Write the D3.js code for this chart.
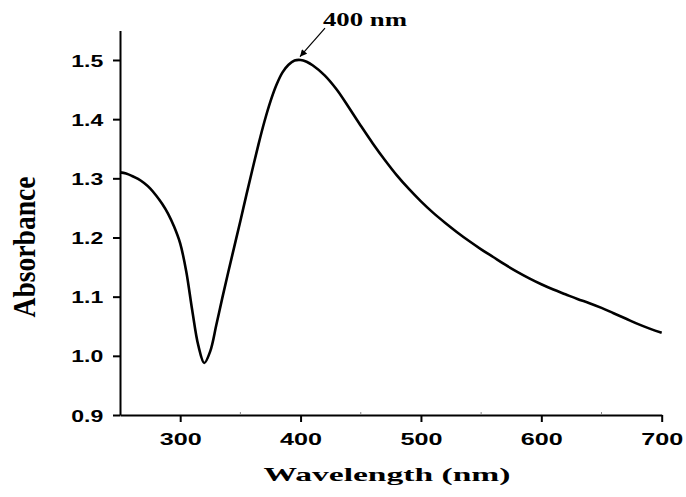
<!DOCTYPE html>
<html>
<head>
<meta charset="utf-8">
<script src="https://cdn.jsdelivr.net/npm/d3@7"></script>
<style>
  html, body { margin: 0; padding: 0; background: #fff; }
  svg { display: block; }
</style>
</head>
<body>
<div id="chart"></div>
<script>
// ---- data ----
const wavelength = [250,255,260,265,270,275,280,285,290,295,300,305,310,315,320,325,330,335,340,345,350,355,360,365,370,375,380,385,390,395,400,405,410,420,430,440,450,460,470,480,490,500,510,520,530,540,550,560,570,580,590,600,610,620,630,640,650,660,670,680,690,700];
const absorbance = [1.310,1.308,1.304,1.299,1.292,1.283,1.271,1.257,1.240,1.218,1.190,1.143,1.077,1.018,0.988,1.008,1.052,1.098,1.142,1.185,1.228,1.272,1.315,1.357,1.396,1.430,1.458,1.479,1.492,1.499,1.500,1.497,1.491,1.474,1.450,1.420,1.389,1.359,1.331,1.305,1.282,1.261,1.242,1.225,1.209,1.194,1.180,1.167,1.154,1.142,1.131,1.121,1.112,1.104,1.096,1.089,1.081,1.072,1.063,1.054,1.046,1.039];
const xTickValues = [300,400,500,600,700];
const xMinorTicks = [350,450,550,650];
const yTickValues = [0.9,1.0,1.1,1.2,1.3,1.4,1.5];
const xTitle = "Wavelength (nm)";
const yTitle = "Absorbance";
const peakLabel = "400 nm";
const peakArrowFrom = [420.3, 1.554];
const peakArrowTo = [399.5, 1.5055];
const peakLabelAt = [418.6, 1.557];

// ---- layout ----
const W = 686, H = 497;
const svg = d3.select("#chart").append("svg").attr("width", W).attr("height", H);

const x = d3.scaleLinear().domain([250, 700]).range([120, 661.7]);
const y = d3.scaleLinear().domain([0.9, 1.55]).range([415, 30.4]);

const defs = svg.append("defs");
defs.append("marker")
  .attr("id", "arrow").attr("viewBox", "0 0 10 10")
  .attr("refX", 10).attr("refY", 5)
  .attr("markerWidth", 9).attr("markerHeight", 7)
  .attr("markerUnits", "userSpaceOnUse")
  .attr("orient", "auto")
  .append("path").attr("d", "M0,0 L10,5 L0,10 z").attr("fill", "#000");

// x axis
const gx = svg.append("g").attr("transform", `translate(0,${y(0.9)})`)
  .call(d3.axisBottom(x).tickValues(xTickValues).tickSize(7).tickSizeOuter(0).tickFormat(d3.format("d")));
gx.select(".domain").attr("stroke", "#000").attr("stroke-width", 2);
gx.selectAll(".tick line").attr("stroke", "#000").attr("stroke-width", 2);
gx.selectAll(".tick text")
  .attr("y", 30).attr("dy", 0)
  .attr("font-family", "Liberation Sans, Arial, sans-serif")
  .attr("font-weight", "bold").attr("font-size", 17).attr("fill", "#000")
  .attr("textLength", 42).attr("lengthAdjust", "spacingAndGlyphs");

// minor x ticks
svg.append("g").selectAll("line").data(xMinorTicks).join("line")
  .attr("x1", d => x(d)).attr("x2", d => x(d))
  .attr("y1", y(0.9) - 1).attr("y2", y(0.9) - 3)
  .attr("stroke", "#888").attr("stroke-width", 1);

// y axis
const gy = svg.append("g").attr("transform", `translate(${x(250)},0)`)
  .call(d3.axisLeft(y).tickValues(yTickValues).tickSize(7).tickSizeOuter(0).tickFormat(d3.format(".1f")));
gy.select(".domain").attr("stroke", "#000").attr("stroke-width", 2);
gy.selectAll(".tick line").attr("stroke", "#000").attr("stroke-width", 2);
gy.selectAll(".tick text")
  .attr("x", -16.7).attr("dy", "0.36em")
  .attr("font-family", "Liberation Sans, Arial, sans-serif")
  .attr("font-weight", "bold").attr("font-size", 17).attr("fill", "#000")
  .attr("textLength", 32).attr("lengthAdjust", "spacingAndGlyphs");

// curve
const pts = wavelength.map((w, i) => [w, absorbance[i]]);
svg.append("path").datum(pts)
  .attr("fill", "none").attr("stroke", "#000").attr("stroke-width", 2.6)
  .attr("stroke-linejoin", "round")
  .attr("d", d3.line().x(d => x(d[0])).y(d => y(d[1])).curve(d3.curveCatmullRom.alpha(0.5)));

// titles
svg.append("text")
  .attr("x", 387).attr("y", 481).attr("text-anchor", "middle")
  .attr("font-family", "Liberation Serif, 'Times New Roman', serif")
  .attr("font-weight", "bold").attr("font-size", 19.5)
  .attr("textLength", 247).attr("lengthAdjust", "spacingAndGlyphs")
  .text(xTitle);

svg.append("text")
  .attr("transform", `translate(35,247) rotate(-90)`)
  .attr("text-anchor", "middle")
  .attr("font-family", "Liberation Serif, 'Times New Roman', serif")
  .attr("font-weight", "bold").attr("font-size", 32)
  .attr("textLength", 141).attr("lengthAdjust", "spacingAndGlyphs")
  .text(yTitle);

// annotation
svg.append("line")
  .attr("x1", x(peakArrowFrom[0])).attr("y1", y(peakArrowFrom[1]))
  .attr("x2", x(peakArrowTo[0])).attr("y2", y(peakArrowTo[1]))
  .attr("stroke", "#000").attr("stroke-width", 1.2)
  .attr("marker-end", "url(#arrow)");
svg.append("text")
  .attr("x", x(peakLabelAt[0])).attr("y", y(peakLabelAt[1]))
  .attr("font-family", "Liberation Serif, 'Times New Roman', serif")
  .attr("font-weight", "bold").attr("font-size", 19)
  .attr("textLength", 84).attr("lengthAdjust", "spacingAndGlyphs")
  .text(peakLabel);
</script>
</body>
</html>
